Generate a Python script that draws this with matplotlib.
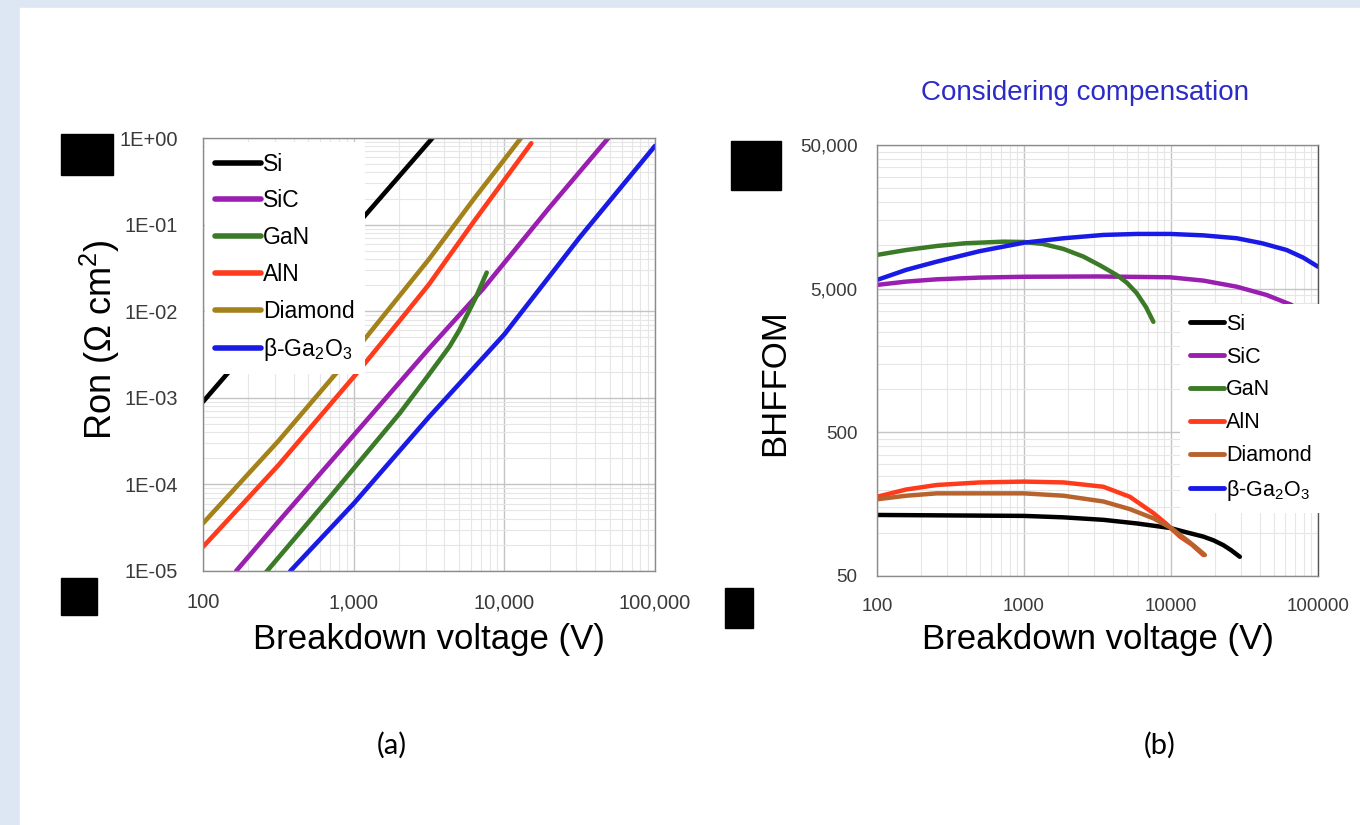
import matplotlib
matplotlib.use('Agg')
import matplotlib.pyplot as plt
from matplotlib.ticker import FixedLocator, FuncFormatter, NullFormatter
from matplotlib.patches import Rectangle
import numpy as np

plt.rcParams['font.family'] = ['Liberation Sans', 'DejaVu Sans']
plt.rcParams['mathtext.fontset'] = 'custom'
plt.rcParams['mathtext.rm'] = 'Liberation Sans'

labels = ['Si', 'SiC', 'GaN', 'AlN', 'Diamond', r'β-Ga$_\mathregular{2}$O$_\mathregular{3}$']
colors_a = ['#000000', '#9a1fb0', '#3b7a27', '#ff3b1c', '#a4821a', '#1a1ae6']
colors_b = ['#000000', '#9a1fb0', '#3b7a27', '#ff3b1c', '#b8622e', '#1a1ae6']

# (a) specific on-resistance vs breakdown voltage
ron_v = [
    [100, 300, 1000, 3000, 3500],                                # Si
    [166, 316, 1000, 3160, 7240, 19950, 49000],                  # SiC
    [257, 730, 2018, 3027, 4325, 5035, 6501, 7640],              # GaN
    [100, 316, 1000, 2000, 3160, 6310, 15100],                   # AlN
    [100, 316, 1000, 2000, 3160, 6310, 12900],                   # Diamond
    [380, 1000, 3160, 10000, 31600, 100000],                     # Ga2O3
]
ron = [
    [9.0e-4, 8.2e-3, 9.0e-2, 0.81, 1.1],
    [1.0e-5, 3.7e-5, 3.7e-4, 3.7e-3, 1.82e-2, 0.158, 1.0],
    [9.3e-6, 7.9e-5, 6.6e-4, 1.68e-3, 3.9e-3, 6.07e-3, 1.47e-2, 2.79e-2],
    [1.9e-5, 1.66e-4, 1.74e-3, 7.6e-3, 2.04e-2, 0.11, 0.87],
    [3.55e-5, 3.16e-4, 3.31e-3, 1.48e-2, 3.98e-2, 0.2, 1.0],
    [1.0e-5, 6.0e-5, 6.0e-4, 5.4e-3, 7.1e-2, 0.81],
]

# (b) BHFFOM vs breakdown voltage
fom_v = [
    [100, 1000, 1860, 3470, 5890, 9840, 12600, 16600, 19500, 22700, 25700, 29400],
    [100, 158, 255, 500, 1000, 3160, 9840, 16600, 28000, 44700, 66200],
    [100, 158, 255, 398, 723, 1000, 1350, 1860, 2535, 3310, 4276, 5010, 5850, 6760, 7590],
    [100, 158, 255, 500, 1000, 1860, 3470, 5250, 7590, 9330, 11500, 13800, 16600],
    [100, 158, 255, 1000, 1860, 3470, 5250, 7590, 10000, 12800, 14800, 17000],
    [100, 158, 255, 500, 1000, 1860, 3470, 5890, 9840, 16600, 28000, 41700, 61200, 79400, 100000],
]
fom = [
    [133, 131, 128, 123, 116, 108, 101, 94, 88.5, 82, 75.5, 68],
    [5310, 5600, 5810, 5970, 6050, 6080, 6000, 5690, 5160, 4520, 3850],
    [8590, 9290, 9910, 10350, 10620, 10570, 10230, 9440, 8360, 7240, 6220, 5500, 4650, 3720, 2940],
    [178, 200, 215, 224, 227, 224, 209, 178, 137, 115, 94, 83, 70],
    [171, 181, 188, 188, 181, 165, 146, 126, 108, 89, 79, 70],
    [5750, 6760, 7710, 9120, 10450, 11220, 11830, 12020, 12020, 11750, 11220, 10350, 9290, 8220, 7110],
]

W, H = 1360, 825
fig = plt.figure(figsize=(W / 100, H / 100), dpi=100, facecolor='#dde7f3')
fig.add_artist(Rectangle((20 / W, 0), 1, 1 - 8 / H, transform=fig.transFigure,
                         color='white', zorder=-2))


def px_axes(left, top, right, bottom):
    return fig.add_axes([left / W, 1 - bottom / H, (right - left) / W, (bottom - top) / H])


def style(ax):
    ax.grid(which='major', color='#c4c4c4', lw=1.0)
    ax.grid(which='minor', color='#e6e6e6', lw=0.8)
    ax.set_axisbelow(True)
    for s in ax.spines.values():
        s.set_color('#8c8c8c')
        s.set_linewidth(1.0)
    ax.tick_params(which='both', length=0, colors='#3a3a3a')


# ---- (a)
ax1 = px_axes(203, 138, 655, 571)
for v, r, lab, c in zip(ron_v, ron, labels, colors_a):
    ax1.plot(v, r, color=c, lw=3.3, label=lab, solid_capstyle='round')
ax1.set_xscale('log')
ax1.set_yscale('log')
ax1.set_xlim(100, 1e5)
ax1.set_ylim(1e-5, 1)
ax1.xaxis.set_major_formatter(FuncFormatter(lambda x, p: f'{x:,.0f}'))
ax1.yaxis.set_major_formatter(FuncFormatter(lambda y, p: f'1E{int(round(np.log10(y))):+03d}'))
ax1.xaxis.set_minor_formatter(NullFormatter())
ax1.yaxis.set_minor_formatter(NullFormatter())
style(ax1)
ax1.tick_params(axis='x', labelsize=14.5, pad=16)
ax1.tick_params(axis='y', labelsize=14.5, pad=18)
ax1.set_xlabel('Breakdown voltage (V)', fontsize=25, va='center')
ax1.xaxis.set_label_coords(0.5, (571 - 640) / 433)
ax1.set_ylabel(r'Ron ($\mathregular{\Omega}$ cm$^\mathregular{2}$)', fontsize=26, va='center')
ax1.yaxis.set_label_coords((100 - 203) / 452, 1 - (340 - 138) / 433)
leg1 = ax1.legend(loc='upper left', bbox_to_anchor=(0.004, 0.99), borderaxespad=0,
                  fontsize=16.5, handlelength=2.0, handletextpad=0.1, labelspacing=0.6,
                  frameon=True, fancybox=False, edgecolor='none', facecolor='white',
                  framealpha=1, borderpad=0.45)
for h in leg1.get_lines():
    h.set_linewidth(4)

# ---- (b)
ax2 = px_axes(877, 145, 1318, 576)
for v, f, lab, c in zip(fom_v, fom, labels, colors_b):
    ax2.plot(v, f, color=c, lw=3.2, label=lab, solid_capstyle='round')
ax2.set_xscale('log')
ax2.set_yscale('log')
ax2.set_xlim(100, 1e5)
ax2.set_ylim(50, 50000)
ymaj = [50, 500, 5000, 50000]
ax2.yaxis.set_major_locator(FixedLocator(ymaj))
ax2.yaxis.set_minor_locator(FixedLocator([m * k for m in ymaj[:-1] for k in range(2, 10)]))
ax2.xaxis.set_major_formatter(FuncFormatter(lambda x, p: f'{x:.0f}'))
ax2.yaxis.set_major_formatter(FuncFormatter(lambda y, p: f'{y:,.0f}'))
ax2.xaxis.set_minor_formatter(NullFormatter())
ax2.yaxis.set_minor_formatter(NullFormatter())
style(ax2)
ax2.spines['right'].set_color('#555555')
ax2.tick_params(axis='x', labelsize=13.5, pad=16)
ax2.tick_params(axis='y', labelsize=13.5, pad=14)
ax2.set_xlabel('Breakdown voltage (V)', fontsize=25, va='center')
ax2.xaxis.set_label_coords(0.5, (576 - 640) / 431)
ax2.set_ylabel('BHFFOM', fontsize=25, va='center')
ax2.yaxis.set_label_coords((775 - 877) / 441, 1 - (383 - 145) / 431)
leg2 = ax2.legend(loc='upper left', bbox_to_anchor=((1180 - 877) / 441, 1 - (304 - 145) / 431),
                  borderaxespad=0, fontsize=15.5, handlelength=1.6, handletextpad=0.1,
                  labelspacing=0.55, frameon=True, fancybox=False, edgecolor='none',
                  facecolor='white', framealpha=1, borderpad=0.45)
leg2.set_clip_on(False)
for h in leg2.get_lines():
    h.set_linewidth(3.5)

fig.text(1085 / W, 1 - 93 / H, 'Considering compensation', color='#2b2bc6',
         fontsize=20, ha='center', va='center')
fig.text(392 / W, 1 - 745 / H, '(a)', fontsize=21, ha='center', va='center',
         family=['Lato', 'DejaVu Sans'])
fig.text(1160 / W, 1 - 745 / H, '(b)', fontsize=21, ha='center', va='center',
         family=['Lato', 'DejaVu Sans'])

# black blocks over the original slide
for x0, y0, x1, y1 in [(61, 134, 113, 175), (61, 578, 97, 615),
                       (731, 141, 781, 190), (725, 588, 753, 628)]:
    fig.add_artist(Rectangle((x0 / W, 1 - y1 / H), (x1 - x0) / W, (y1 - y0) / H,
                             transform=fig.transFigure, color='black', zorder=5))

fig.savefig('out.png', dpi=100)
